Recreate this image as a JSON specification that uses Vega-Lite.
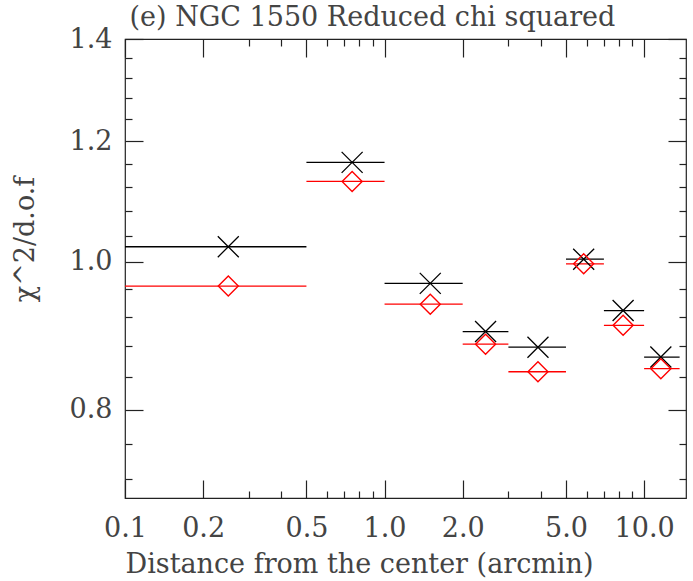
{
  "$schema": "https://vega.github.io/schema/vega-lite/v6.json",
  "width": 561,
  "height": 459,
  "autosize": {"type": "none"},
  "padding": {"left": 125, "top": 39, "right": 7, "bottom": 83},
  "background": "white",
  "config": {
    "view": {"stroke": "#222", "strokeWidth": 1.2},
    "axis": {
      "domain": false,
      "grid": false,
      "tickColor": "#222",
      "tickWidth": 1.2,
      "labelFont": "DejaVu Serif",
      "labelFontSize": 27,
      "labelColor": "#444",
      "titleFont": "DejaVu Serif",
      "titleFontSize": 27,
      "titleFontWeight": "normal",
      "titleColor": "#444"
    }
  },
  "data": {
    "values": [
      {"lo": 0.1, "hi": 0.5, "mid": 0.25, "black": 1.023, "red": 0.964},
      {"lo": 0.5, "hi": 1.0, "mid": 0.75, "black": 1.162, "red": 1.129},
      {"lo": 1.0, "hi": 2.0, "mid": 1.5, "black": 0.968, "red": 0.938},
      {"lo": 2.0, "hi": 3.0, "mid": 2.45, "black": 0.900, "red": 0.883},
      {"lo": 3.0, "hi": 5.0, "mid": 3.9, "black": 0.879, "red": 0.847},
      {"lo": 5.0, "hi": 7.0, "mid": 5.85, "black": 1.004, "red": 0.997},
      {"lo": 7.0, "hi": 10.0, "mid": 8.3, "black": 0.929, "red": 0.9085},
      {"lo": 10.0, "hi": 13.7, "mid": 11.6, "black": 0.866, "red": 0.851}
    ]
  },
  "resolve": {"axis": {"x": "independent", "y": "independent"}},
  "layer": [
    {
      "mark": {"type": "rule", "color": "#000", "strokeWidth": 1.3},
      "encoding": {
        "x": {
          "field": "lo", "type": "quantitative",
          "scale": {"type": "log", "domain": [0.1, 14.5], "nice": false},
          "axis": {
            "orient": "bottom",
            "values": [0.1, 0.2, 0.5, 1, 2, 5, 10],
            "format": ".1f",
            "tickSize": -18,
            "labelPadding": 35,
            "labelFlush": false,
            "title": "Distance from the center (arcmin)",
            "titleAnchor": "start",
            "titleAlign": "left",
            "titleBaseline": "alphabetic",
            "titleX": 0,
            "titleY": 74
          }
        },
        "x2": {"field": "hi"},
        "y": {
          "field": "black", "type": "quantitative",
          "scale": {"type": "log", "domain": [0.7, 1.4], "nice": false, "zero": false},
          "axis": {
            "orient": "left",
            "values": [0.8, 1.0, 1.2, 1.4],
            "format": ".1f",
            "tickSize": -18,
            "labelPadding": 31,
            "labelFlush": false,
            "title": "χ^2/d.o.f",
            "titleAngle": -90,
            "titleAlign": "center",
            "titleBaseline": "alphabetic",
            "titleX": -92,
            "titleY": 200
          }
        }
      }
    },
    {
      "mark": {"type": "rule", "color": "#ff0000", "strokeWidth": 1.3},
      "encoding": {
        "x": {
          "field": "lo", "type": "quantitative",
          "scale": {"type": "log", "domain": [0.1, 14.5], "nice": false},
          "axis": {
            "orient": "bottom",
            "values": [0.3, 0.4, 0.6, 0.7, 0.8, 0.9, 3, 4, 6, 7, 8, 9],
            "tickSize": -7,
            "labels": false,
            "title": null
          }
        },
        "x2": {"field": "hi"},
        "y": {
          "field": "red", "type": "quantitative",
          "scale": {"type": "log", "domain": [0.7, 1.4], "nice": false, "zero": false},
          "axis": {
            "orient": "left",
            "values": [0.72, 0.76, 0.84, 0.88, 0.92, 0.96, 1.04, 1.08, 1.12, 1.16, 1.24, 1.28, 1.32, 1.36],
            "tickSize": -7,
            "labels": false,
            "title": null
          }
        }
      }
    },
    {
      "mark": {"type": "point", "shape": "M-1,-1L1,1M-1,1L1,-1", "filled": false, "color": "#000", "size": 441, "strokeWidth": 1.3, "opacity": 1},
      "encoding": {
        "x": {
          "field": "mid", "type": "quantitative",
          "scale": {"type": "log", "domain": [0.1, 14.5], "nice": false},
          "axis": {
            "orient": "top",
            "values": [0.1, 0.2, 0.5, 1, 2, 5, 10],
            "tickSize": -18,
            "labels": false,
            "title": "(e) NGC 1550 Reduced chi squared",
            "titleAnchor": "start",
            "titleAlign": "left",
            "titleBaseline": "alphabetic",
            "titleX": 4,
            "titleY": -14
          }
        },
        "y": {
          "field": "black", "type": "quantitative",
          "scale": {"type": "log", "domain": [0.7, 1.4], "nice": false, "zero": false},
          "axis": {
            "orient": "right",
            "values": [0.8, 1.0, 1.2, 1.4],
            "tickSize": -18,
            "labels": false,
            "title": null
          }
        }
      }
    },
    {
      "mark": {"type": "point", "shape": "diamond", "filled": false, "color": "#ff0000", "size": 400, "strokeWidth": 1.4, "opacity": 1},
      "encoding": {
        "x": {
          "field": "mid", "type": "quantitative",
          "scale": {"type": "log", "domain": [0.1, 14.5], "nice": false},
          "axis": {
            "orient": "top",
            "values": [0.3, 0.4, 0.6, 0.7, 0.8, 0.9, 3, 4, 6, 7, 8, 9],
            "tickSize": -7,
            "labels": false,
            "title": null
          }
        },
        "y": {
          "field": "red", "type": "quantitative",
          "scale": {"type": "log", "domain": [0.7, 1.4], "nice": false, "zero": false},
          "axis": {
            "orient": "right",
            "values": [0.72, 0.76, 0.84, 0.88, 0.92, 0.96, 1.04, 1.08, 1.12, 1.16, 1.24, 1.28, 1.32, 1.36],
            "tickSize": -7,
            "labels": false,
            "title": null
          }
        }
      }
    }
  ]
}
